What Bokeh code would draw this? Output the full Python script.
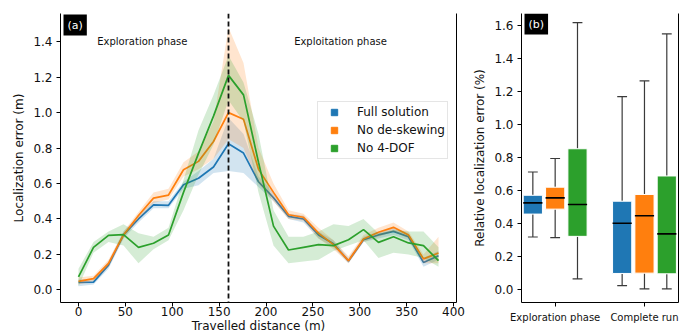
from bokeh.plotting import figure
from bokeh.layouts import row
from bokeh.models import (LinearAxis, FixedTicker, PrintfTickFormatter, Span, Label,
                          Legend, LegendItem, Range1d)
from bokeh.embed import file_html
from bokeh.resources import INLINE

FONT = "DejaVu Sans"

# ---------------- data: panel (a) ----------------
distance = [0, 16, 32, 48, 64, 80, 96, 112, 128, 144, 160, 176, 192, 208, 224,
            240, 256, 272, 288, 304, 320, 336, 352, 368, 384]

full_mean = [0.043, 0.044, 0.14, 0.31, 0.40, 0.48, 0.477, 0.593, 0.63, 0.693, 0.824, 0.772,
             0.61, 0.52, 0.415, 0.40, 0.31, 0.26, 0.163, 0.283, 0.31, 0.33, 0.30, 0.155, 0.193]
full_lo = [0.02, 0.03, 0.12, 0.29, 0.38, 0.46, 0.46, 0.57, 0.59, 0.66, 0.67, 0.66,
           0.58, 0.50, 0.40, 0.38, 0.29, 0.24, 0.15, 0.27, 0.29, 0.31, 0.28, 0.13, 0.17]
full_hi = [0.06, 0.06, 0.16, 0.33, 0.42, 0.50, 0.50, 0.61, 0.67, 0.74, 0.97, 0.88,
           0.64, 0.55, 0.43, 0.42, 0.33, 0.28, 0.18, 0.30, 0.33, 0.35, 0.32, 0.18, 0.22]

desk_mean = [0.048, 0.064, 0.15, 0.31, 0.42, 0.518, 0.535, 0.678, 0.725, 0.837, 1.0, 0.963,
             0.68, 0.55, 0.424, 0.41, 0.32, 0.255, 0.165, 0.287, 0.325, 0.353, 0.31, 0.175, 0.208]
desk_lo = [0.03, 0.05, 0.13, 0.29, 0.40, 0.49, 0.51, 0.64, 0.68, 0.74, 0.85, 0.80,
           0.60, 0.50, 0.40, 0.39, 0.29, 0.23, 0.15, 0.27, 0.30, 0.33, 0.29, 0.15, 0.15]
desk_hi = [0.07, 0.08, 0.17, 0.33, 0.44, 0.55, 0.57, 0.72, 0.78, 0.95, 1.48, 1.28,
           0.80, 0.60, 0.45, 0.43, 0.35, 0.28, 0.19, 0.31, 0.35, 0.38, 0.33, 0.20, 0.30]

dof_mean = [0.073, 0.24, 0.308, 0.312, 0.24, 0.263, 0.31, 0.55, 0.77, 0.98, 1.21, 1.10,
            0.72, 0.36, 0.225, 0.24, 0.255, 0.25, 0.283, 0.34, 0.268, 0.30, 0.265, 0.25, 0.165]
dof_lo = [0.02, 0.21, 0.27, 0.25, 0.15, 0.23, 0.28, 0.45, 0.65, 0.82, 1.07, 0.95,
          0.55, 0.25, 0.15, 0.16, 0.17, 0.22, 0.25, 0.28, 0.18, 0.21, 0.20, 0.18, 0.13]
dof_hi = [0.12, 0.27, 0.33, 0.37, 0.32, 0.30, 0.35, 0.62, 0.90, 1.10, 1.32, 1.17,
          0.88, 0.45, 0.30, 0.30, 0.33, 0.37, 0.36, 0.40, 0.32, 0.34, 0.33, 0.33, 0.24]

phase_switch = 160
x_ticks = [0, 50, 100, 150, 200, 250, 300, 350, 400]
y_ticks_a = [0.0, 0.2, 0.4, 0.6, 0.8, 1.0, 1.2, 1.4]

series_names = ["Full solution", "No de-skewing", "No 4-DOF"]
colors = ["#1f77b4", "#ff7f0e", "#2ca02c"]

# ---------------- data: panel (b) ----------------
categories = ["Exploration phase", "Complete run"]
cat_pos = [0, 1]
box_offsets = [-0.25, 0.0, 0.25]
whisk_low = [[0.317, 0.022], [0.313, 0.002], [0.063, 0.002]]
q1 = [[0.456, 0.096], [0.486, 0.098], [0.321, 0.094]]
median = [[0.524, 0.400], [0.554, 0.446], [0.514, 0.336]]
q3 = [[0.570, 0.534], [0.619, 0.575], [0.852, 0.687]]
whisk_high = [[0.711, 1.168], [0.793, 1.263], [1.617, 1.548]]
y_ticks_b = [0.0, 0.2, 0.4, 0.6, 0.8, 1.0, 1.2, 1.4, 1.6]

TXT = "#111111"
H = 335


def style_axis(ax, size="12px"):
    ax.major_label_text_font = FONT
    ax.major_label_text_font_size = size
    ax.major_label_text_color = TXT
    ax.axis_label_text_font = FONT
    ax.axis_label_text_font_size = "12px"
    ax.axis_label_text_font_style = "normal"
    ax.axis_label_text_color = TXT
    ax.major_tick_out = 4
    ax.major_tick_in = 0
    ax.minor_tick_out = 0
    ax.minor_tick_in = 0
    ax.axis_line_color = "black"
    ax.major_tick_line_color = "black"
    ax.axis_line_width = 1
    ax.major_tick_line_width = 1


# ---------------- panel (a) ----------------
p1 = figure(width=470, height=H, x_range=Range1d(-19.2, 403.2), y_range=Range1d(-0.071, 1.559),
            output_backend="svg", toolbar_location=None, title=None,
            min_border_left=60, min_border_right=14, min_border_top=13, min_border_bottom=H - 303)
p1.grid.visible = False
p1.outline_line_color = None
p1.background_fill_color = "white"

style_axis(p1.xaxis[0])
p1.xaxis[0].ticker = FixedTicker(ticks=x_ticks)
p1.xaxis[0].major_label_standoff = 0
p1.xaxis[0].axis_label = "Travelled distance (m)"
p1.xaxis[0].axis_label_standoff = 0
style_axis(p1.yaxis[0])
p1.yaxis[0].ticker = FixedTicker(ticks=y_ticks_a)
p1.yaxis[0].formatter = PrintfTickFormatter(format="%.1f")
p1.yaxis[0].axis_label = "Localization error (m)"
p1.yaxis[0].major_label_standoff = 4
p1.yaxis[0].axis_label_standoff = 4

right_a = LinearAxis(ticker=FixedTicker(ticks=[]))
style_axis(right_a)
p1.add_layout(right_a, "right")

means = [full_mean, desk_mean, dof_mean]
los = [full_lo, desk_lo, dof_lo]
his = [full_hi, desk_hi, dof_hi]
for m, lo, hi, c in zip(means, los, his, colors):
    p1.varea(x=distance, y1=lo, y2=hi, fill_color=c, fill_alpha=0.2)
    p1.line(x=distance, y=m, line_color=c, line_width=1.7)

p1.add_layout(Span(location=phase_switch, dimension="height", line_color="#111111",
                   line_width=1.8, line_dash="5 3"))

for txt, xpos in [("Exploration phase", 20), ("Exploitation phase", 230)]:
    p1.add_layout(Label(x=xpos, y=1.4, text=txt, text_font=FONT, text_font_size="10px",
                        text_color=TXT, text_align="left", text_baseline="alphabetic"))

p1.add_layout(Label(x=3, y=288, x_units="screen", y_units="screen", text="(a)",
                    text_font=FONT, text_font_size="11px", text_color="white",
                    text_align="left", text_baseline="top",
                    background_fill_color="black", padding=4))

nan = float("nan")
items = []
for name, c in zip(series_names, colors):
    r = p1.scatter(x=[nan], y=[nan], marker="square", size=7, fill_color=c, line_color=c)
    items.append(LegendItem(label=name, renderers=[r]))
legend = Legend(items=items, location=(257, 143), label_text_font=FONT,
                label_text_font_size="12px", label_text_color=TXT,
                glyph_width=28, glyph_height=16, label_height=16, label_standoff=9,
                spacing=2, padding=2, margin=0,
                border_line_color="#cccccc", border_line_width=1,
                background_fill_color="white", background_fill_alpha=0.8)
p1.add_layout(legend)

# ---------------- panel (b) ----------------
p2 = figure(width=220, height=H, x_range=Range1d(-0.377, 1.381), y_range=Range1d(-0.080, 1.672),
            output_backend="svg", toolbar_location=None, title=None,
            min_border_left=48, min_border_right=12, min_border_top=13, min_border_bottom=H - 304)
p2.grid.visible = False
p2.outline_line_color = None

style_axis(p2.xaxis[0], size="10px")
p2.xaxis[0].ticker = FixedTicker(ticks=cat_pos)
p2.xaxis[0].major_label_overrides = {pos: lab for pos, lab in zip(cat_pos, categories)}
p2.xaxis[0].major_label_standoff = 5
style_axis(p2.yaxis[0])
p2.yaxis[0].ticker = FixedTicker(ticks=y_ticks_b)
p2.yaxis[0].formatter = PrintfTickFormatter(format="%.1f")
p2.yaxis[0].axis_label = "Relative localization error (%)"
p2.yaxis[0].major_label_standoff = 4
p2.yaxis[0].axis_label_standoff = 4

right_b = LinearAxis(ticker=FixedTicker(ticks=[]))
style_axis(right_b)
p2.add_layout(right_b, "right")

box_w = 0.215
cap_half = 0.055
for k, c in enumerate(colors):
    xs = [cp + box_offsets[k] for cp in cat_pos]
    p2.segment(x0=xs, y0=q3[k], x1=xs, y1=whisk_high[k], line_color="#3a3a3a", line_width=1.2)
    p2.segment(x0=xs, y0=q1[k], x1=xs, y1=whisk_low[k], line_color="#3a3a3a", line_width=1.2)
    p2.segment(x0=[x - cap_half for x in xs], y0=whisk_high[k],
               x1=[x + cap_half for x in xs], y1=whisk_high[k], line_color="#3a3a3a", line_width=1.2)
    p2.segment(x0=[x - cap_half for x in xs], y0=whisk_low[k],
               x1=[x + cap_half for x in xs], y1=whisk_low[k], line_color="#3a3a3a", line_width=1.2)
    p2.vbar(x=xs, width=box_w, bottom=q1[k], top=q3[k], fill_color=c,
            line_color="white", line_width=1)
    p2.segment(x0=[x - box_w / 2 for x in xs], y0=median[k],
               x1=[x + box_w / 2 for x in xs], y1=median[k], line_color="black", line_width=1.6)

p2.add_layout(Label(x=3, y=289, x_units="screen", y_units="screen", text="(b)",
                    text_font=FONT, text_font_size="11px", text_color="white",
                    text_align="left", text_baseline="top",
                    background_fill_color="black", padding=4))

layout = row(p1, p2)
open("out.html", "w").write(file_html(layout, INLINE))
